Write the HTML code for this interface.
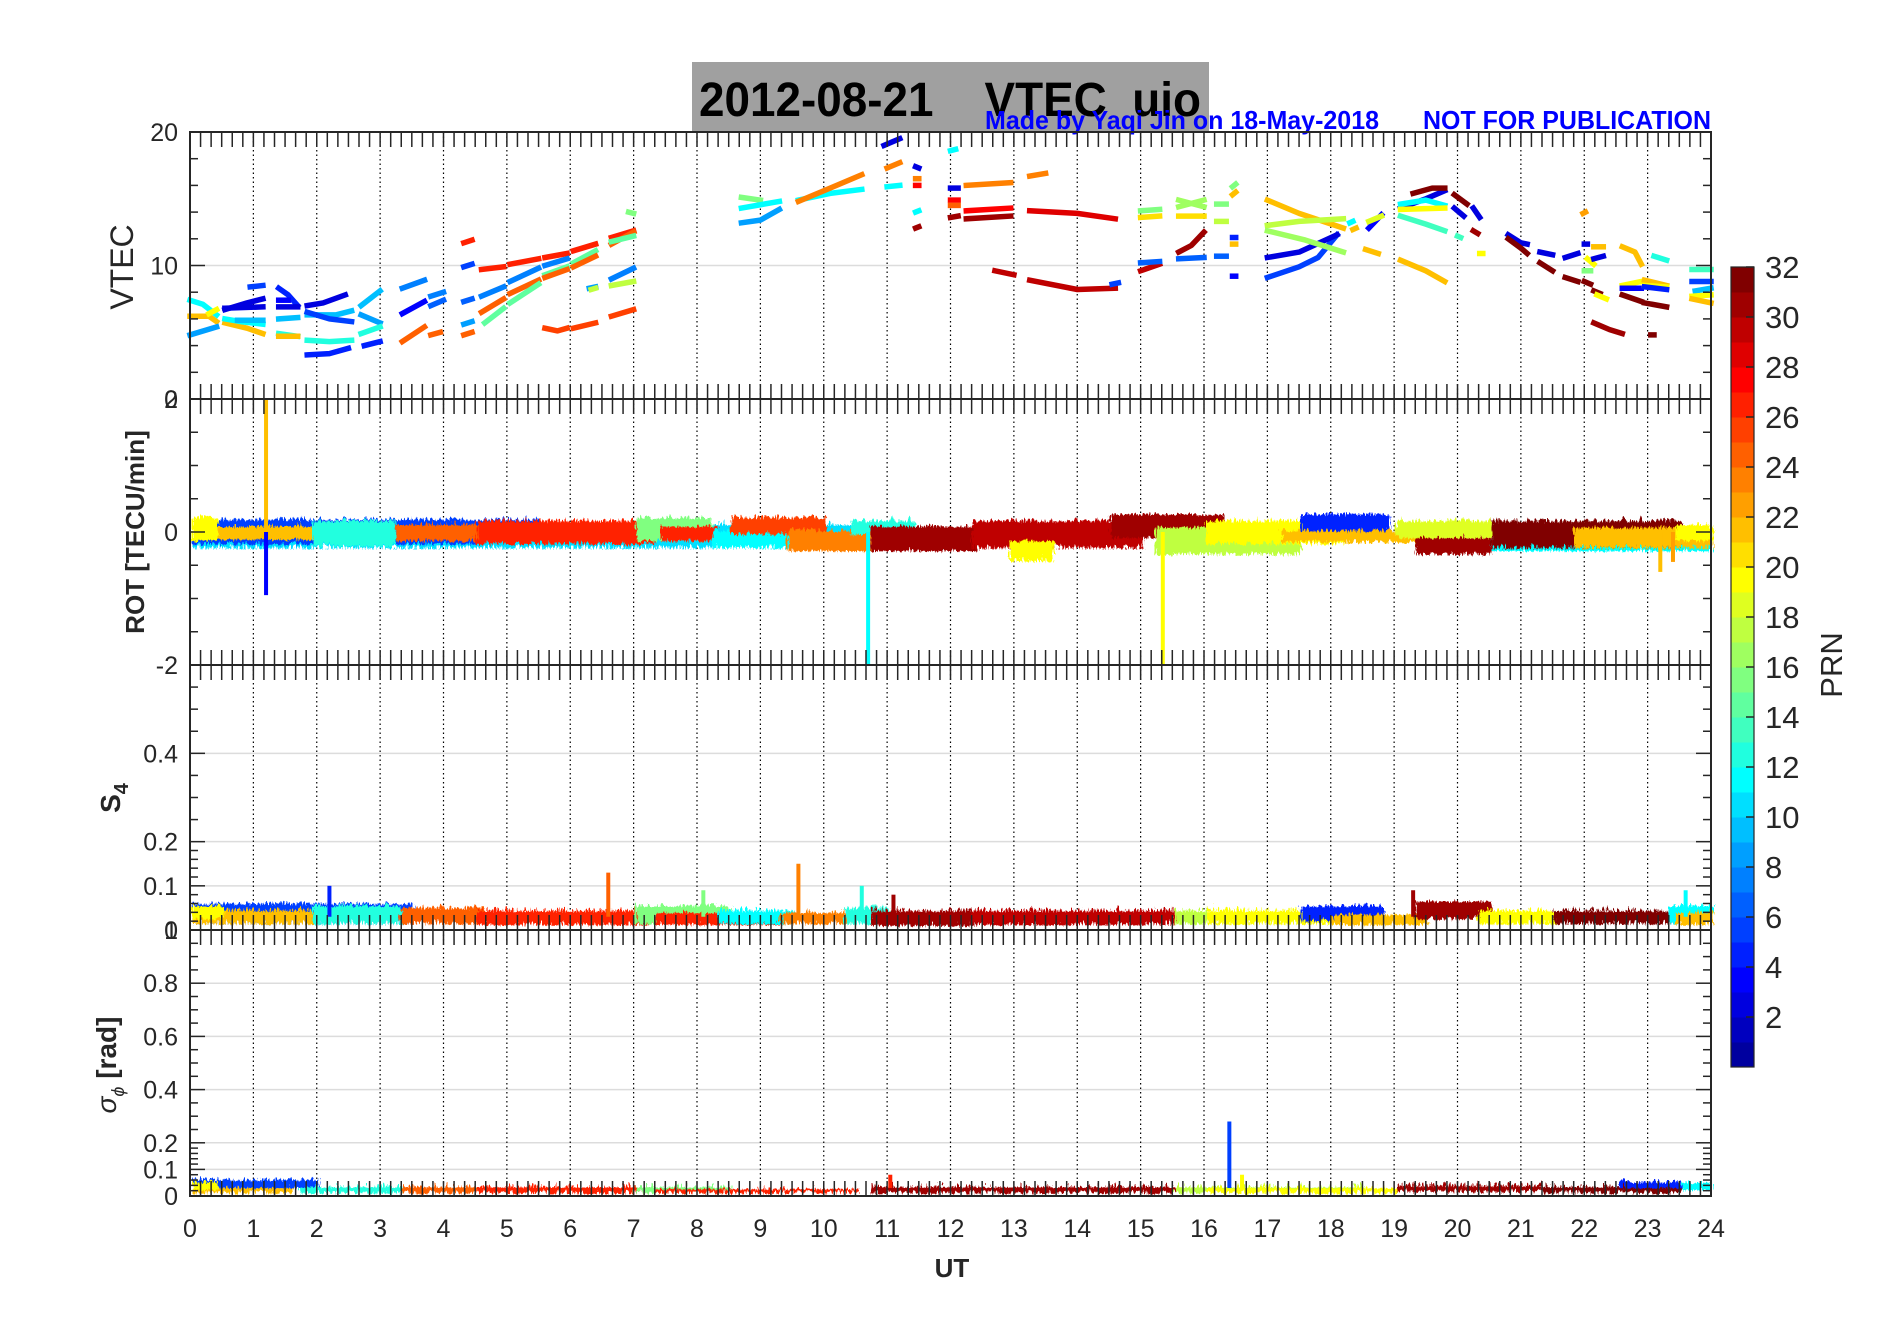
<!DOCTYPE html>
<html><head><meta charset="utf-8"><title>2012-08-21 VTEC uio</title>
<style>html,body{margin:0;padding:0;background:#fff}svg{display:block}text{font-family:"Liberation Sans",Arial,sans-serif}</style>
</head><body>
<svg id="fig" width="1902" height="1330" viewBox="0 0 1902 1330" xmlns="http://www.w3.org/2000/svg">
<defs>
<filter id="jag" x="-2%" y="-50%" width="104%" height="200%">
<feTurbulence type="turbulence" baseFrequency="0.35 0.08" numOctaves="2" seed="3" result="t"/>
<feDisplacementMap in="SourceGraphic" in2="t" scale="9" xChannelSelector="R" yChannelSelector="G"/>
</filter>
</defs>
<rect x="692" y="62" width="517" height="71" fill="#a0a0a0"/>
<text x="699" y="116" font-size="48" font-weight="bold" fill="#000" textLength="502" lengthAdjust="spacingAndGlyphs" xml:space="preserve">2012-08-21    VTEC  uio</text>
<text x="985" y="129" font-size="26" font-weight="bold" fill="#0000ff" textLength="394" lengthAdjust="spacingAndGlyphs">Made by Yaqi Jin on 18-May-2018</text>
<text x="1423" y="129" font-size="26" font-weight="bold" fill="#0000ff" textLength="288" lengthAdjust="spacingAndGlyphs">NOT FOR PUBLICATION</text>
<g id="grid"></g><g id="data"></g><g id="axes"></g><g id="cbar"></g>
</svg>
<script>
// ---------- data ----------
const hourTicks = [0,1,2,3,4,5,6,7,8,9,10,11,12,13,14,15,16,17,18,19,20,21,22,23,24];
const vtecTickLabels = ['0','10','20'];
const rotTickLabels = ['-2','0','2'];
const s4TickLabels = ['0','0.1','0.2','0.4'];
const sigTickLabels = ['0','0.1','0.2','0.4','0.6','0.8','1'];
const cbarTickLabels = ['2','4','6','8','10','12','14','16','18','20','22','24','26','28','30','32'];
// VTEC arcs: [PRN, [[hour, VTEC], ...]]
const vtecArcs = [
[12,[[0,7.4],[0.2,7.1],[0.42,6.3]]],[22,[[0,6.2],[0.3,6.2],[0.42,5.8]]],[9,[[0,4.8],[0.42,5.4]]],[20,[[0.3,6.4],[0.42,6.7]]],
[22,[[0.55,5.7],[0.9,5.3],[1.15,4.9]]],[3,[[0.55,6.7],[0.9,7.2],[1.15,7.5]]],[3,[[0.55,6.8],[1.15,6.9]]],[12,[[0.55,6.0],[0.8,5.8],[1.15,5.6]]],[10,[[0.75,5.9],[1.15,5.9]]],[6,[[0.95,8.4],[1.15,8.5]]],
[5,[[1.4,8.3],[1.55,7.8],[1.7,7.0]]],[3,[[1.4,6.9],[1.7,6.9]]],[4,[[1.4,7.4],[1.55,7.4]]],[10,[[1.4,6.0],[1.7,6.1]]],[13,[[1.4,4.9],[1.7,4.7]]],[22,[[1.4,4.7],[1.7,4.7]]],
[3,[[1.85,7.0],[2.1,7.2],[2.45,7.8]]],[10,[[1.85,6.3],[2.3,6.3],[2.55,6.6]]],[6,[[1.85,6.5],[2.2,6.0],[2.55,5.8]]],[13,[[1.85,4.4],[2.2,4.3],[2.55,4.4]]],[5,[[1.85,3.3],[2.2,3.4],[2.5,3.8]]],
[10,[[2.7,7.0],[3.0,8.1]]],[9,[[2.7,6.3],[3.0,5.7]]],[13,[[2.7,4.9],[3.0,5.4]]],[5,[[2.75,4.0],[3.0,4.3]]],
[8,[[3.35,8.3],[3.7,8.9]]],[4,[[3.35,6.4],[3.7,7.3]]],[25,[[3.35,4.3],[3.7,5.4]]],[8,[[3.8,7.7],[4.0,8.0]]],[7,[[3.8,7.0],[4.0,7.4]]],[25,[[3.8,4.8],[3.95,5.0]]],
[27,[[4.32,11.7],[4.45,11.9]]],[6,[[4.32,9.9],[4.45,10.1]]],[7,[[4.32,7.3],[4.45,7.5]]],[9,[[4.32,5.6],[4.45,5.8]]],[25,[[4.32,4.8],[4.45,5.0]]],
[27,[[4.6,9.7],[4.95,9.9]]],[8,[[4.6,7.7],[4.95,8.4]]],[25,[[4.6,6.5],[4.95,7.5]]],[15,[[4.65,5.7],[4.95,6.8]]],
[27,[[5.05,10.1],[5.5,10.5]]],[8,[[5.05,8.8],[5.5,9.8]]],[25,[[5.05,7.9],[5.5,8.9]]],[15,[[5.05,7.2],[5.5,8.6]]],
[27,[[5.6,10.6],[5.95,10.9]]],[8,[[5.6,10.0],[5.95,10.5]]],[15,[[5.6,9.3],[5.95,9.9]]],[25,[[5.6,9.1],[5.95,9.7]]],[26,[[5.6,5.3],[5.8,5.1],[5.95,5.3]]],
[27,[[6.05,11.1],[6.4,11.6]]],[15,[[6.05,10.2],[6.4,11.1]]],[25,[[6.05,9.9],[6.4,10.7]]],[9,[[6.3,8.3],[6.4,8.4]]],[18,[[6.33,8.2],[6.4,8.3]]],[26,[[6.05,5.3],[6.4,5.7]]],
[27,[[6.65,12.1],[7.0,12.6]]],[25,[[6.65,11.6],[7.0,12.5]]],[15,[[6.65,11.8],[7.0,12.2]]],[8,[[6.65,9.0],[7.0,9.8]]],[18,[[6.65,8.5],[7.0,8.8]]],[26,[[6.65,6.2],[7.0,6.7]]],[16,[[6.92,14.0],[7.0,13.9]]],
[16,[[8.7,15.1],[9.0,14.9]]],[12,[[8.7,14.3],[9.3,14.8]]],[9,[[8.7,13.2],[9.0,13.4],[9.3,14.2]]],
[12,[[9.6,14.9],[10.1,15.4],[10.6,15.7]]],[24,[[9.6,14.8],[10.1,15.8],[10.6,16.8]]],
[12,[[11.0,15.9],[11.2,16.0]]],[24,[[11.0,17.3],[11.2,17.7]]],[3,[[10.95,19.0],[11.2,19.5]]],
[3,[[11.45,17.4],[11.5,17.3]]],[24,[[11.45,16.5],[11.5,16.5]]],[28,[[11.45,16.0],[11.5,16.0]]],[12,[[11.45,14.0],[11.5,14.1]]],[31,[[11.45,12.8],[11.5,12.9]]],
[12,[[12.0,18.6],[12.08,18.7]]],[3,[[12.0,15.8],[12.12,15.8]]],[28,[[12.0,14.9],[12.12,14.9]]],[25,[[12.0,14.5],[12.12,14.5]]],[31,[[12.0,13.6],[12.12,13.7]]],
[24,[[12.25,16.0],[12.95,16.2]]],[24,[[13.25,16.7],[13.5,16.9]]],[28,[[12.25,14.1],[12.95,14.3]]],[31,[[12.25,13.5],[12.95,13.7]]],
[29,[[13.25,14.1],[14.0,13.9],[14.6,13.5]]],[30,[[12.7,9.6],[13.0,9.3]]],[30,[[13.25,8.9],[14.0,8.2],[14.6,8.3]]],[6,[[14.55,8.6],[14.65,8.7]]],
[30,[[15.0,9.6],[15.3,10.1]]],[7,[[15.0,10.2],[15.3,10.3]]],[16,[[15.0,14.1],[15.3,14.2]]],[21,[[15.0,13.6],[15.3,13.7]]],
[31,[[15.6,11.0],[15.8,11.5],[16.0,12.5]]],[7,[[15.6,10.5],[16.0,10.6]]],[17,[[15.6,14.9],[16.0,14.4]]],[17,[[15.6,14.4],[16.0,14.9]]],[21,[[15.6,13.7],[16.0,13.7]]],
[7,[[16.2,10.7],[16.35,10.7]]],[16,[[16.2,14.6],[16.35,14.6]]],[18,[[16.2,13.3],[16.35,13.3]]],
[16,[[16.45,15.9],[16.5,16.1]]],[22,[[16.45,15.3],[16.5,15.5]]],[5,[[16.45,12.1],[16.5,12.1]]],[22,[[16.45,11.6],[16.5,11.6]]],[4,[[16.45,9.2],[16.5,9.2]]],
[22,[[17.0,14.9],[17.5,13.9],[18.2,12.8]]],[6,[[17.0,9.1],[17.5,9.9],[17.8,10.6],[18.1,12.3]]],[3,[[17.0,10.6],[17.5,11.0],[18.1,12.3]]],
[18,[[17.0,13.0],[17.5,13.3],[18.2,13.5]]],[17,[[17.0,12.6],[17.6,11.9],[18.2,11.0]]],
[12,[[18.3,13.2],[18.35,13.3]]],[22,[[18.35,12.7],[18.4,12.8]]],[22,[[18.55,11.2],[18.75,10.9]]],[4,[[18.6,12.8],[18.8,13.8]]],[19,[[18.6,13.3],[18.8,13.7]]],
[3,[[19.1,14.3],[19.5,15.0],[19.8,15.6]]],[32,[[19.3,15.4],[19.6,15.8],[19.8,15.8]]],[12,[[19.1,14.6],[19.5,14.9],[19.8,14.5]]],[20,[[19.1,14.2],[19.8,14.3]]],[14,[[19.1,13.7],[19.5,13.1],[19.8,12.6]]],[22,[[19.1,10.4],[19.5,9.6],[19.8,8.8]]],
[32,[[19.95,15.3],[20.15,14.6]]],[3,[[19.95,14.3],[20.1,13.7]]],[14,[[20.0,12.2],[20.05,12.1]]],[31,[[20.25,12.6],[20.32,12.4]]],[3,[[20.25,14.3],[20.35,13.6]]],[20,[[20.35,10.9],[20.4,10.9]]],
[3,[[20.8,12.3],[21.0,11.7],[21.1,11.6]]],[32,[[20.8,12.0],[21.0,11.3],[21.1,10.9]]],
[32,[[21.3,10.2],[21.5,9.6]]],[3,[[21.3,11.0],[21.5,10.8]]],[32,[[21.7,9.1],[21.9,8.8]]],[3,[[21.7,10.6],[21.9,10.9]]],
[3,[[22.0,11.6],[22.05,11.6]]],[20,[[22.05,10.5],[22.15,10.1]]],[16,[[22.0,9.6],[22.1,9.6]]],[32,[[22.0,8.8],[22.1,8.6]]],[23,[[21.98,13.9],[22.02,14.0]]],
[22,[[22.15,11.4],[22.3,11.4]]],[3,[[22.15,10.5],[22.3,10.7]]],[32,[[22.15,8.1],[22.25,7.9]]],[20,[[22.2,7.8],[22.35,7.5]]],[31,[[22.15,5.7],[22.4,5.2],[22.6,4.9]]],
[22,[[22.6,11.4],[22.8,11.0],[22.9,10.1]]],[20,[[22.6,8.5],[22.9,8.8]]],[4,[[22.6,8.3],[22.9,8.3]]],[32,[[22.6,7.8],[22.9,7.3]]],
[22,[[22.95,8.9],[23.3,8.5]]],[20,[[22.95,8.5],[23.3,8.4]]],[5,[[22.95,8.4],[23.3,8.2]]],[32,[[22.95,7.2],[23.3,6.9]]],[13,[[23.1,10.7],[23.3,10.4]]],[32,[[23.05,4.8],[23.1,4.8]]],
[14,[[23.7,9.7],[24.0,9.7]]],[6,[[23.7,8.8],[24.0,8.8]]],[10,[[23.75,8.1],[24.0,8.3]]],[20,[[23.7,7.7],[24.0,7.8]]],[22,[[23.7,7.5],[24.0,7.2]]]
];
// ROT bands: [PRN, start hour, end hour, low, high]
const rotBands = [
[11,0,10.7,-0.2,0.15],[6,0,5.5,-0.15,0.22],[22,0,1.9,-0.08,0.12],[20,0,0.4,-0.1,0.25],[13,1.9,3.2,-0.18,0.2],
[25,3.2,4.6,-0.1,0.15],[27,4.5,7.3,-0.15,0.2],[16,7.0,8.2,-0.1,0.25],[27,7.4,8.3,-0.1,0.12],[12,8.2,9.4,-0.2,0.05],
[26,8.5,10.0,0.0,0.25],[24,9.4,10.7,-0.25,0.05],[13,10.4,11.4,0.0,0.2],[31,10.7,12.4,-0.25,0.12],[30,12.3,15.0,-0.2,0.2],
[20,12.9,13.6,-0.4,-0.1],[31,14.5,16.3,-0.05,0.3],[18,15.2,17.5,-0.3,0.1],[20,16.0,18.2,-0.15,0.2],[5,17.5,18.9,0.0,0.3],
[22,17.2,19.5,-0.12,0.05],[19,19.0,20.5,-0.05,0.2],[31,19.3,20.5,-0.3,-0.05],[12,20.5,24,-0.25,-0.05],[32,20.5,23.5,-0.2,0.2],
[22,21.8,24,-0.2,0.1],[20,23.4,24,-0.1,0.15]
];
const rotSpikes = [[22,1.2,2.0],[4,1.2,-0.95],[12,10.7,-2.0],[20,15.35,-2.0],[22,23.2,-0.6],[23,23.4,-0.45]];
const s4Bands = [
[6,0,3.5,0.02,0.065],[22,0,1.9,0.02,0.05],[20,0,0.5,0.03,0.06],[13,1.9,3.3,0.02,0.06],[25,3.3,4.6,0.02,0.055],
[27,4.5,7.2,0.018,0.05],[16,7,8.5,0.02,0.06],[27,7.3,9.3,0.018,0.045],[12,8.3,9.5,0.02,0.05],[24,9.3,10.5,0.02,0.045],
[13,10.3,11,0.02,0.055],[31,10.7,12.4,0.015,0.05],[30,12.3,15.5,0.018,0.05],[18,15.5,17.5,0.02,0.05],[20,16,18.5,0.02,0.05],
[5,17.5,18.8,0.025,0.06],[22,18,19.5,0.018,0.04],[31,19.3,20.5,0.03,0.07],[20,20.3,21.5,0.02,0.05],[32,21.5,23.4,0.02,0.05],
[12,23.3,24,0.02,0.06],[22,23.4,24,0.018,0.045]
];
const s4Spikes = [[5,2.2,0.1],[25,6.6,0.13],[24,9.6,0.15],[16,8.1,0.09],[13,10.6,0.1],[31,11.1,0.08],[31,19.3,0.09],[12,23.6,0.09]];
const sigBands = [
[6,0,2,0.04,0.07],[22,0,1.6,0.02,0.04],[20,0,0.4,0.03,0.06],[13,1.7,3.3,0.02,0.045],[25,3.3,4.5,0.02,0.045],
[27,4.5,7.2,0.02,0.045],[16,7,8.5,0.02,0.045],[27,7.3,10.5,0.02,0.035],[31,10.7,15.5,0.02,0.045],[18,15.5,18.5,0.02,0.045],
[20,16,19,0.02,0.04],[31,19,21.3,0.025,0.05],[32,21.3,23.5,0.02,0.045],[5,22.5,23.5,0.04,0.06],[12,23.5,24,0.03,0.06]
];
const sigSpikes = [[6,16.4,0.28],[27,11.05,0.08],[20,16.6,0.08]];

// ---------- layout ----------
const NS='http://www.w3.org/2000/svg';
const X0=190, X1=1711;
const xs = h => X0 + (X1-X0)*h/24;
const panels = {
 vtec:{top:132,bot:399,min:0,max:20},
 rot:{top:399,bot:665,min:-2,max:2},
 s4:{top:665,bot:930,min:0,max:0.6},
 sig:{top:930,bot:1196,min:0,max:1}
};
const ys = (p,v) => p.bot - (v-p.min)/(p.max-p.min)*(p.bot-p.top);
function jet(k){
  const u = j => j<1||j>23 ? 0 : (j<=8 ? j/8 : (j<=15 ? 1 : (24-j)/8));
  const r=u(k-12), g=u(k-4), b=u(k+4);
  return 'rgb('+Math.round(r*255)+','+Math.round(g*255)+','+Math.round(b*255)+')';
}
function mk(tag, attrs, parent){
  const e=document.createElementNS(NS,tag);
  for(const k in attrs) e.setAttribute(k,attrs[k]);
  parent.appendChild(e); return e;
}
const G=document.getElementById('grid'), D=document.getElementById('data'), A=document.getElementById('axes'), C=document.getElementById('cbar');

// grids
const hGrid = {vtec:[10], rot:[0], s4:[0.1,0.2,0.4], sig:[0.1,0.2,0.4,0.6,0.8]};
for(const key in panels){
  const p=panels[key];
  hGrid[key].forEach(v=>{
    const l=mk('line',{x1:X0,x2:X1,y1:ys(p,v),y2:ys(p,v),stroke:'#dcdcdc','stroke-width':1.5},G);
    
    
  });
  hourTicks.slice(1,-1).forEach(h=>{
    const l=mk('line',{x1:xs(h),x2:xs(h),y1:p.top,y2:p.bot,stroke:'#000','stroke-width':1.2,'stroke-dasharray':'1.5 3'},G);
    
    
  });
}

// VTEC arcs
const gv=mk('g',{},D);


vtecArcs.forEach(a=>{
  const pts=a[1].map(q=>xs(q[0]).toFixed(1)+','+ys(panels.vtec,q[1]).toFixed(1)).join(' ');
  const pl=mk('polyline',{points:pts,fill:'none',stroke:jet(a[0]),'stroke-width':5.5,'stroke-linecap':'square','stroke-linejoin':'round'},gv);
  
  
});

function drawBands(p, bands, spikes, name){
  const g=mk('g',{filter:'url(#jag)'},D);
  
  
  bands.forEach(b=>{
    const yh=ys(p,b[4]), yl=ys(p,b[3]);
    const r=mk('rect',{x:xs(b[1]),y:yh,width:Math.max(2,xs(b[2])-xs(b[1])),height:Math.max(3,yl-yh),fill:jet(b[0])},g);
    
    
  });
  const gs=mk('g',{},D);
  spikes.forEach(s=>{
    const base = Math.min(Math.max(0,p.min),p.max);
    const baseY = name==='rot' ? ys(p,0) : ys(p,0.03);
    const l=mk('line',{x1:xs(s[1]),x2:xs(s[1]),y1:baseY,y2:ys(p,s[2]),stroke:jet(s[0]),'stroke-width':4},gs);
    
    
  });
}
drawBands(panels.rot, rotBands, rotSpikes, 'rot');
drawBands(panels.s4, s4Bands, s4Spikes, 's4');
drawBands(panels.sig, sigBands, sigSpikes, 'sig');

// axes: frames, ticks, labels
const AX='#262626';
const yTicks = {
 vtec:{major:[0,10,20], minor:[2,4,6,8,12,14,16,18], labels:vtecTickLabels, labelVals:[0,10,20]},
 rot:{major:[-2,0,2], minor:[-1.5,-1,-0.5,0.5,1,1.5], labels:rotTickLabels, labelVals:[-2,0,2]},
 s4:{major:[0,0.1,0.2,0.4], minor:[0.02,0.04,0.06,0.08,0.12,0.14,0.16,0.18,0.25,0.3,0.35,0.45,0.5,0.55], labels:s4TickLabels, labelVals:[0,0.1,0.2,0.4]},
 sig:{major:[0,0.1,0.2,0.4,0.6,0.8], minor:[0.02,0.04,0.06,0.08,0.12,0.14,0.16,0.18,0.25,0.3,0.35,0.45,0.5,0.55,0.65,0.7,0.75,0.85,0.9,0.95], labels:sigTickLabels, labelVals:[0,0.1,0.2,0.4,0.6,0.8,1]}
};
for(const key in panels){
  const p=panels[key], t=yTicks[key];
  const fr=mk('rect',{x:X0,y:p.top,width:X1-X0,height:p.bot-p.top,fill:'none',stroke:AX,'stroke-width':2},A);
  
  
  t.major.forEach(v=>{
    mk('line',{x1:X0,x2:X0+15,y1:ys(p,v),y2:ys(p,v),stroke:AX,'stroke-width':1.5},A);
    mk('line',{x1:X1,x2:X1-15,y1:ys(p,v),y2:ys(p,v),stroke:AX,'stroke-width':1.5},A);
  });
  t.minor.forEach(v=>{
    mk('line',{x1:X0,x2:X0+8,y1:ys(p,v),y2:ys(p,v),stroke:AX,'stroke-width':1.5},A);
    mk('line',{x1:X1,x2:X1-8,y1:ys(p,v),y2:ys(p,v),stroke:AX,'stroke-width':1.5},A);
  });
  t.labels.forEach((lab,i)=>{
    const tx=mk('text',{x:178,y:ys(p,t.labelVals[i])+9,'text-anchor':'end','font-size':25,fill:AX},A);
    tx.textContent=lab;
    
    
  });
  for(let m=1;m<24*6;m++){
    const x=xs(m/6);
    mk('line',{x1:x,x2:x,y1:p.top,y2:p.top+15,stroke:AX,'stroke-width':1.5},A);
    mk('line',{x1:x,x2:x,y1:p.bot,y2:p.bot-15,stroke:AX,'stroke-width':1.5},A);
  }
}
hourTicks.forEach(h=>{
  const tx=mk('text',{x:xs(h),y:1237,'text-anchor':'middle','font-size':25,fill:AX},A);
  tx.textContent=String(h);
  
  
});
function label(txt,x,y,size,weight,name,rot){
  const tx=mk('text',{x:x,y:y,'text-anchor':'middle','font-size':size,'font-weight':weight,fill:AX},A);
  if(rot) tx.setAttribute('transform','rotate(-90 '+x+' '+y+')');
  tx.textContent=txt;
  
  
  return tx;
}
label('UT',952,1277,26,'bold','x-axis-title',false);
label('VTEC',133,267,32,'normal','vtec-y-axis-title',true);
label('ROT [TECU/min]',144,532,26,'bold','rot-y-axis-title',true);
const s4t=label('S',120,798,28,'bold','s4-y-axis-title',true);
const sub=document.createElementNS(NS,'tspan'); sub.setAttribute('font-size','20'); sub.setAttribute('dy','8'); sub.textContent='4'; s4t.appendChild(sub);
const sgt=label('',116,1065,28,'bold','sigma-y-axis-title',true);
const t1=document.createElementNS(NS,'tspan'); t1.setAttribute('font-style','italic'); t1.setAttribute('font-weight','normal'); t1.textContent='σ'; sgt.appendChild(t1);
const t2=document.createElementNS(NS,'tspan'); t2.setAttribute('font-style','italic'); t2.setAttribute('font-weight','normal'); t2.setAttribute('font-size','18'); t2.setAttribute('dy','8'); t2.textContent='ϕ'; sgt.appendChild(t2);
const t3=document.createElementNS(NS,'tspan'); t3.setAttribute('dy','-8'); t3.textContent=' [rad]'; sgt.appendChild(t3);

// colorbar
const CB={x:1731,w:23,top:267,bot:1067,min:0,max:32};
const cy = v => CB.bot - (v-CB.min)/(CB.max-CB.min)*(CB.bot-CB.top);
for(let k=1;k<=32;k++){
  const r=mk('rect',{x:CB.x,y:cy(k),width:CB.w,height:cy(k-1)-cy(k)+0.5,fill:jet(k)},C);
  
  
}
const cf=mk('rect',{x:CB.x,y:CB.top,width:CB.w,height:CB.bot-CB.top,fill:'none',stroke:AX,'stroke-width':1.2},C);


cbarTickLabels.forEach(l=>{
  const v=+l;
  mk('line',{x1:CB.x+CB.w,x2:CB.x+CB.w-8,y1:cy(v),y2:cy(v),stroke:AX,'stroke-width':1.5},C);
  const tx=mk('text',{x:1765,y:cy(v)+11,'font-size':31,fill:AX},C);
  tx.textContent=l;
  
  
});
const prn=mk('text',{x:1842,y:665,'text-anchor':'middle','font-size':31,fill:AX,transform:'rotate(-90 1842 665)'},C);
prn.textContent='PRN';


</script>
</body></html>
